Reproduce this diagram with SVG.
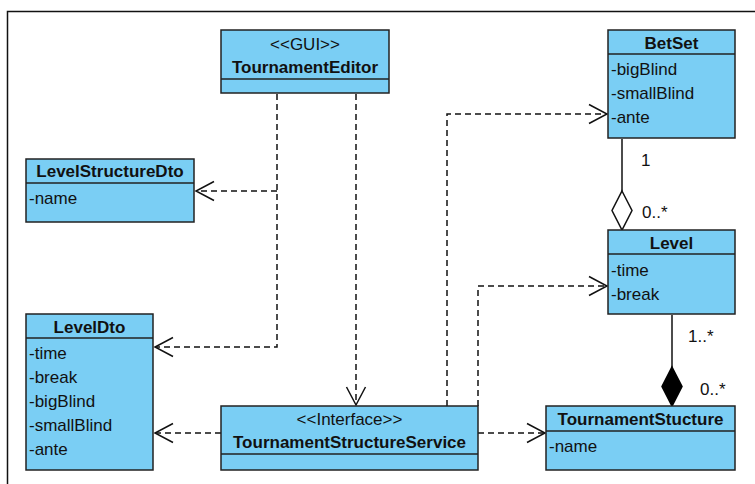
<svg xmlns="http://www.w3.org/2000/svg" width="755" height="484" viewBox="0 0 755 484">
  <style>
    .box { fill: #7acef4; stroke: #222; stroke-width: 1.5; }
    .div { stroke: #222; stroke-width: 1.5; }
    text { font-family: "Liberation Sans", Arial, sans-serif; font-size: 17px; fill: #111; }
    .name { font-weight: bold; text-anchor: middle; }
    .stereo { text-anchor: middle; }
    .dep { fill: none; stroke: #111; stroke-width: 1.5; stroke-dasharray: 6 4; }
    .assoc { fill: none; stroke: #111; stroke-width: 1.5; }
    .head { fill: none; stroke: #111; stroke-width: 1.5; }
  </style>

  <!-- frame -->
  <path d="M7.5 484 V11.5 H755" fill="none" stroke="#111" stroke-width="1.5"/>

  <!-- connectors -->
  <g id="connectors">
    <!-- TournamentEditor -> LevelStructureDto / LevelDto -->
    <path class="dep" d="M277 94 V347 H156"/>
    <path class="dep" d="M277 191 H197"/>
    <path class="head" d="M214 181.5 L196 191 L214 200.5"/>
    <path class="head" d="M173 337.5 L155 347 L173 356.5"/>
    <!-- TournamentEditor -> TournamentStructureService -->
    <path class="dep" d="M356 94 V404"/>
    <path class="head" d="M346.5 387 L356 405 L365.5 387"/>
    <!-- TournamentStructureService -> LevelDto -->
    <path class="dep" d="M221 433 H156"/>
    <path class="head" d="M173 423.5 L155 433 L173 442.5"/>
    <!-- TournamentStructureService -> BetSet -->
    <path class="dep" d="M447 406 V114 H606"/>
    <path class="head" d="M589 104.5 L607 114 L589 123.5"/>
    <!-- TournamentStructureService -> Level -->
    <path class="dep" d="M478 406 V286 H606"/>
    <path class="head" d="M589 276.5 L607 286 L589 295.5"/>
    <!-- TournamentStructureService -> TournamentStucture -->
    <path class="dep" d="M478 433 H544"/>
    <path class="head" d="M527 423.5 L545 433 L527 442.5"/>
    <!-- BetSet <>- Level (aggregation) -->
    <path class="assoc" d="M622 139 V191"/>
    <path d="M622 191 L632 210.5 L622 230 L612 210.5 Z" fill="#fff" stroke="#111" stroke-width="1.5"/>
    <text x="641" y="166">1</text>
    <text x="642" y="218">0..*</text>
    <!-- Level <#>- TournamentStucture (composition) -->
    <path class="assoc" d="M672 315 V367"/>
    <path d="M672 367 L682 386.5 L672 406 L662 386.5 Z" fill="#000" stroke="#000" stroke-width="1.5"/>
    <text x="688" y="342">1..*</text>
    <text x="700" y="395">0..*</text>
  </g>

  <!-- TournamentEditor -->
  <g id="TournamentEditor">
    <rect class="box" x="221" y="30" width="168" height="63"/>
    <line class="div" x1="221" y1="79" x2="389" y2="79"/>
    <text class="stereo" x="305" y="50">&lt;&lt;GUI&gt;&gt;</text>
    <text class="name" x="305" y="73">TournamentEditor</text>
  </g>

  <!-- LevelStructureDto -->
  <g id="LevelStructureDto">
    <rect class="box" x="26" y="159" width="168" height="63"/>
    <line class="div" x1="26" y1="183" x2="194" y2="183"/>
    <text class="name" x="110" y="177">LevelStructureDto</text>
    <text x="29" y="204">-name</text>
  </g>

  <!-- LevelDto -->
  <g id="LevelDto">
    <rect class="box" x="26" y="314" width="127" height="156"/>
    <line class="div" x1="26" y1="338" x2="153" y2="338"/>
    <text class="name" x="89.5" y="333">LevelDto</text>
    <text x="29" y="359">-time</text>
    <text x="29" y="383">-break</text>
    <text x="29" y="407">-bigBlind</text>
    <text x="29" y="431">-smallBlind</text>
    <text x="29" y="455">-ante</text>
  </g>

  <!-- TournamentStructureService -->
  <g id="TournamentStructureService">
    <rect class="box" x="221" y="406" width="257" height="64"/>
    <line class="div" x1="221" y1="454" x2="478" y2="454"/>
    <text class="stereo" x="349.5" y="425">&lt;&lt;Interface&gt;&gt;</text>
    <text class="name" x="349.5" y="448">TournamentStructureService</text>
  </g>

  <!-- BetSet -->
  <g id="BetSet">
    <rect class="box" x="608" y="30" width="127" height="108"/>
    <line class="div" x1="608" y1="54" x2="735" y2="54"/>
    <text class="name" x="671.5" y="49">BetSet</text>
    <text x="611" y="75">-bigBlind</text>
    <text x="611" y="99">-smallBlind</text>
    <text x="611" y="123">-ante</text>
  </g>

  <!-- Level -->
  <g id="Level">
    <rect class="box" x="608" y="230" width="127" height="84"/>
    <line class="div" x1="608" y1="254" x2="735" y2="254"/>
    <text class="name" x="671.5" y="249">Level</text>
    <text x="611" y="276">-time</text>
    <text x="611" y="300">-break</text>
  </g>

  <!-- TournamentStucture -->
  <g id="TournamentStucture">
    <rect class="box" x="546" y="406" width="189" height="64"/>
    <line class="div" x1="546" y1="431" x2="735" y2="431"/>
    <text class="name" x="640.5" y="425">TournamentStucture</text>
    <text x="549" y="452">-name</text>
  </g>
</svg>
